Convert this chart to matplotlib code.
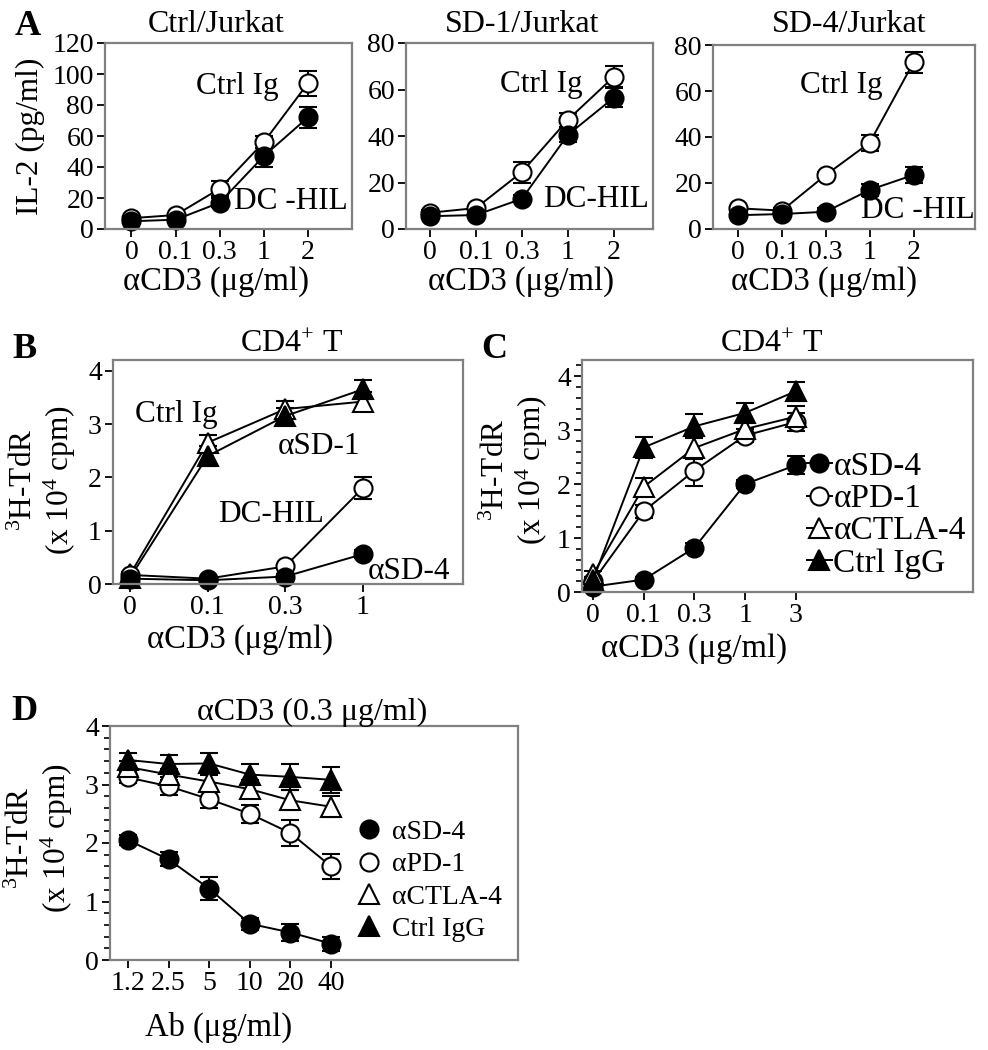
import numpy as np
import matplotlib
matplotlib.use("Agg")
import matplotlib.pyplot as plt
from matplotlib.lines import Line2D
from matplotlib.ticker import MultipleLocator

plt.rcParams['font.family'] = ['Liberation Serif', 'DejaVu Serif']
plt.rcParams['mathtext.fontset'] = 'custom'
plt.rcParams['mathtext.rm'] = 'Liberation Serif'
plt.rcParams['mathtext.it'] = 'Liberation Serif:italic'

# ---------------- data ----------------
xlab_A = ['0', '0.1', '0.3', '1', '2']
a1_ctrl = [7, 9, 26, 56, 94]
a1_ctrl_err = [1, 1, 5, 4, 8]
a1_dchil = [5, 6, 17, 47, 72]
a1_dchil_err = [1, 1, 3, 7, 7]

a2_ctrl = [7, 9, 24.5, 47, 65.5]
a2_ctrl_err = [1, 1, 4.5, 3, 4.5]
a2_dchil = [5.5, 6, 13, 40.5, 56.5]
a2_dchil_err = [1, 1, 1.5, 3, 4]

a3_ctrl = [9, 8, 23.5, 37.5, 72.5]
a3_ctrl_err = [1, 1, 1.5, 3.5, 4.5]
a3_dchil = [6, 6.5, 7.5, 17, 23.5]
a3_dchil_err = [1, 1, 1.5, 2.5, 3.5]

xlab_B = ['0', '0.1', '0.3', '1']
b_ctrl = [0.18, 2.65, 3.28, 3.42]
b_ctrl_err = [0.05, 0.15, 0.15, 0.18]
b_sd1 = [0.12, 2.4, 3.15, 3.65]
b_sd1_err = [0.05, 0.18, 0.15, 0.18]
b_dchil = [0.17, 0.1, 0.33, 1.8]
b_dchil_err = [0.03, 0.03, 0.05, 0.2]
b_sd4 = [0.1, 0.07, 0.14, 0.56]
b_sd4_err = [0.03, 0.03, 0.05, 0.08]

xlab_C = ['0', '0.1', '0.3', '1', '3']
c_sd4 = [0.1, 0.23, 0.82, 2.0, 2.35]
c_sd4_err = [0.03, 0.05, 0.08, 0.08, 0.17]
c_pd1 = [0.2, 1.5, 2.25, 2.9, 3.15]
c_pd1_err = [0.05, 0.12, 0.28, 0.12, 0.17]
c_ctla4 = [0.33, 1.95, 2.67, 3.02, 3.25]
c_ctla4_err = [0.05, 0.17, 0.2, 0.15, 0.2]
c_ctrl = [0.23, 2.68, 3.07, 3.32, 3.72]
c_ctrl_err = [0.05, 0.2, 0.22, 0.18, 0.18]

xlab_D = ['1.2', '2.5', '5', '10', '20', '40']
d_sd4 = [2.05, 1.72, 1.22, 0.62, 0.47, 0.28]
d_sd4_err = [0.08, 0.12, 0.2, 0.1, 0.15, 0.12]
d_pd1 = [3.12, 2.97, 2.75, 2.5, 2.17, 1.6]
d_pd1_err = [0.1, 0.15, 0.15, 0.15, 0.22, 0.22]
d_ctla4 = [3.3, 3.17, 3.05, 2.92, 2.73, 2.62]
d_ctla4_err = [0.1, 0.1, 0.12, 0.15, 0.17, 0.18]
d_ctrl = [3.42, 3.35, 3.36, 3.17, 3.13, 3.08]
d_ctrl_err = [0.12, 0.15, 0.17, 0.18, 0.22, 0.22]

legend_labels = ['αSD-4', 'αPD-1', 'αCTLA-4', 'Ctrl IgG']

# ---------------- layout ----------------
W, H = 988, 1050
fig = plt.figure(figsize=(W / 100, H / 100), dpi=100)


def rect(x0, y0, x1, y1):
    return [x0 / W, 1 - y1 / H, (x1 - x0) / W, (y1 - y0) / H]


TICK_FS = 20
LAB_FS = 23.5
YLAB_FS = 22.5
TITLE_FS = 23
ANN_FS = 22.5
MS_C = 13
MS_T = 14


def style(ax, xlabels, xlim, ylim, yticks, minor=None):
    for s in ax.spines.values():
        s.set_color('#808080')
        s.set_linewidth(1.6)
    ax.set_xticks(np.arange(len(xlabels)))
    ax.set_xticklabels(xlabels)
    ax.set_xlim(*xlim)
    ax.set_ylim(*ylim)
    ax.set_yticks(yticks)
    if minor:
        ax.yaxis.set_minor_locator(MultipleLocator(minor))
        ax.tick_params(axis='y', which='minor', length=4, width=1.2, color='k', direction='out')
    ax.tick_params(which='major', length=6, width=1.3, color='k', direction='out',
                   labelsize=TICK_FS, pad=2)


def series(ax, y, e, marker, filled):
    x = np.arange(len(y))
    ms = MS_C if marker == 'o' else MS_T
    ax.errorbar(x, y, yerr=e, fmt='-', color='k', marker=marker, ms=ms,
                mfc='k' if filled else 'white', mec='k', mew=1.5, lw=1.4,
                ecolor='k', elinewidth=1.4, capsize=6.5, capthick=1.4, clip_on=False)


def ylab(ax, text, x, y):
    ax.set_ylabel(text, fontsize=YLAB_FS, linespacing=1.1)
    ax.yaxis.set_label_coords(x, y)


def xlab(ax, text, x, y):
    ax.set_xlabel(text, fontsize=LAB_FS)
    ax.xaxis.set_label_coords(x, y)
    ax.xaxis.label.set_va('top')


# ---- Panel A ----
axA1 = fig.add_axes(rect(105, 43, 352, 229))
series(axA1, a1_ctrl, a1_ctrl_err, 'o', False)
series(axA1, a1_dchil, a1_dchil_err, 'o', True)
style(axA1, xlab_A, (-0.6, 5.0), (0, 120), np.arange(0, 121, 20))
axA1.set_title('Ctrl/Jurkat', fontsize=TITLE_FS, x=0.449, y=1.059, pad=0)
axA1.text(3.34, 92, 'Ctrl Ig', fontsize=ANN_FS, ha='right', va='center')
axA1.text(2.32, 18, 'DC -HIL', fontsize=ANN_FS, ha='left', va='center')
xlab(axA1, 'αCD3 (μg/ml)', 0.449, -0.2)
ylab(axA1, 'IL-2 (pg/ml)', -0.243, 0.5)

axA2 = fig.add_axes(rect(406, 43, 653, 229))
series(axA2, a2_ctrl, a2_ctrl_err, 'o', False)
series(axA2, a2_dchil, a2_dchil_err, 'o', True)
style(axA2, xlab_A, (-0.52, 4.85), (0, 80), np.arange(0, 81, 20))
axA2.set_title('SD-1/Jurkat', fontsize=TITLE_FS, x=0.47, y=1.059, pad=0)
axA2.text(3.33, 62, 'Ctrl Ig', fontsize=ANN_FS, ha='right', va='center')
axA2.text(2.46, 12.5, 'DC-HIL', fontsize=ANN_FS, ha='left', va='center')
xlab(axA2, 'αCD3 (μg/ml)', 0.466, -0.2)

axA3 = fig.add_axes(rect(713, 45, 975, 229))
series(axA3, a3_ctrl, a3_ctrl_err, 'o', False)
series(axA3, a3_dchil, a3_dchil_err, 'o', True)
style(axA3, xlab_A, (-0.57, 5.4), (0, 80), np.arange(0, 81, 20))
axA3.set_title('SD-4/Jurkat', fontsize=TITLE_FS, x=0.519, y=1.07, pad=0)
axA3.text(3.3, 62.5, 'Ctrl Ig', fontsize=ANN_FS, ha='right', va='center')
axA3.text(2.8, 7.9, 'DC -HIL', fontsize=ANN_FS, ha='left', va='center')
xlab(axA3, 'αCD3 (μg/ml)', 0.424, -0.2)

# ---- Panel B ----
axB = fig.add_axes(rect(113, 360, 463, 584))
series(axB, b_ctrl, b_ctrl_err, '^', False)
series(axB, b_sd1, b_sd1_err, '^', True)
series(axB, b_dchil, b_dchil_err, 'o', False)
series(axB, b_sd4, b_sd4_err, 'o', True)
style(axB, xlab_B, (-0.22, 4.29), (0, 4.2), np.arange(0, 5, 1))
axB.set_title('CD4$^{+}$ T', fontsize=TITLE_FS, x=0.511, y=1.036, pad=0)
axB.text(0.06, 3.17, 'Ctrl Ig', fontsize=ANN_FS, ha='left', va='center')
axB.text(1.9, 2.57, 'αSD-1', fontsize=ANN_FS, ha='left', va='center')
axB.text(1.13, 1.3, 'DC-HIL', fontsize=ANN_FS, ha='left', va='center')
axB.text(3.06, 0.23, 'αSD-4', fontsize=ANN_FS, ha='left', va='center')
xlab(axB, 'αCD3 (μg/ml)', 0.363, -0.18)
ylab(axB, '$^{3}$H-TdR\n(x 10$^{4}$ cpm)', -0.1, 0.464)

# ---- Panel C ----
axC = fig.add_axes(rect(582, 360, 973, 592))
series(axC, c_sd4, c_sd4_err, 'o', True)
series(axC, c_pd1, c_pd1_err, 'o', False)
series(axC, c_ctla4, c_ctla4_err, '^', False)
series(axC, c_ctrl, c_ctrl_err, '^', True)
style(axC, xlab_C, (-0.22, 7.5), (0, 4.3), np.arange(0, 5, 1), minor=0.2)
axC.set_title('CD4$^{+}$ T', fontsize=TITLE_FS, x=0.486, y=1.034, pad=0)
xlab(axC, 'αCD3 (μg/ml)', 0.286, -0.177)
ylab(axC, '$^{3}$H-TdR\n(x 10$^{4}$ cpm)', -0.082, 0.526)
hC = [Line2D([], [], color='k', marker='o', mfc='k', mec='k', ms=MS_C, mew=1.5, lw=1.4),
      Line2D([], [], color='k', marker='o', mfc='white', mec='k', ms=MS_C, mew=1.5, lw=1.4),
      Line2D([], [], color='k', marker='^', mfc='white', mec='k', ms=MS_T, mew=1.5, lw=1.4),
      Line2D([], [], color='k', marker='^', mfc='k', mec='k', ms=MS_T, mew=1.5, lw=1.4)]
axC.legend(hC, legend_labels, loc='upper left',
           bbox_to_anchor=(0.575, 0.605), frameon=False, fontsize=24,
           handlelength=0.75, handletextpad=0.05, labelspacing=0.05, borderpad=0,
           borderaxespad=0)

# ---- Panel D ----
axD = fig.add_axes(rect(110, 726, 518, 960))
series(axD, d_sd4, d_sd4_err, 'o', True)
series(axD, d_pd1, d_pd1_err, 'o', False)
series(axD, d_ctla4, d_ctla4_err, '^', False)
series(axD, d_ctrl, d_ctrl_err, '^', True)
style(axD, xlab_D, (-0.44, 9.6), (0, 4), np.arange(0, 5, 1), minor=0.2)
axD.set_title('αCD3 (0.3 μg/ml)', fontsize=TITLE_FS, x=0.495, y=1.026, pad=0)
xlab(axD, 'Ab (μg/ml)', 0.267, -0.22)
ylab(axD, '$^{3}$H-TdR\n(x 10$^{4}$ cpm)', -0.086, 0.521)
hD = [Line2D([], [], ls='none', marker='o', mfc='k', mec='k', ms=MS_C, mew=1.5),
      Line2D([], [], ls='none', marker='o', mfc='white', mec='k', ms=MS_C, mew=1.5),
      Line2D([], [], ls='none', marker='^', mfc='white', mec='k', ms=MS_T, mew=1.5),
      Line2D([], [], ls='none', marker='^', mfc='k', mec='k', ms=MS_T, mew=1.5)]
axD.legend(hD, legend_labels, loc='upper left',
           bbox_to_anchor=(0.6, 0.6), frameon=False, fontsize=20,
           handlelength=1.0, handletextpad=0.35, labelspacing=0.25, borderpad=0,
           borderaxespad=0)

# ---- panel letters ----
for letter, px, py in [('A', 15, 35), ('B', 12, 358), ('C', 481, 358), ('D', 11, 720)]:
    fig.text(px / W, 1 - py / H, letter, fontsize=26, fontweight='bold', ha='left', va='baseline')

fig.savefig('out.png', dpi=100)
